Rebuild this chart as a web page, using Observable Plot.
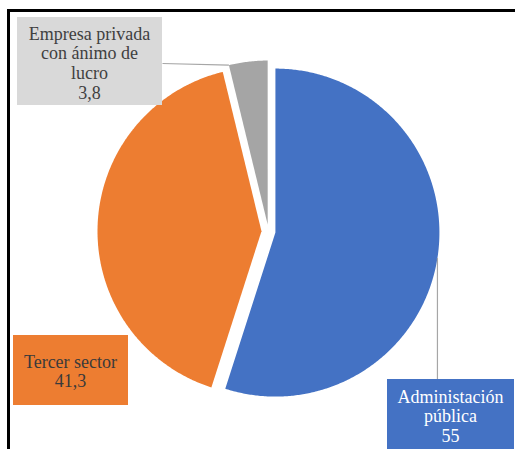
<!DOCTYPE html>
<html><head><meta charset="utf-8">
<script src="https://cdn.jsdelivr.net/npm/d3@7"></script>
<script src="https://cdn.jsdelivr.net/npm/@observablehq/plot@0.6"></script>
<style>
html,body{margin:0;padding:0;background:#fff;}
#wrap{position:relative;width:515px;height:449px;overflow:hidden;}
#frame{position:absolute;left:7px;top:9px;width:700px;height:700px;border-left:3px solid #000;border-top:3px solid #000;pointer-events:none;}
</style></head><body>
<div id="wrap"><div id="chart"></div><div id="frame"></div></div>
<script>
// ---- data ----
const categories = ["Administación pública", "Tercer sector", "Empresa privada con ánimo de lucro"];
const values = [55, 41.3, 3.8];
const valueLabels = ["55", "41,3", "3,8"];
const labelLines = ["Administación\npública", "Tercer sector", "Empresa privada\ncon ánimo de\nlucro"];
const colors = ["#4472C4", "#ED7D31", "#A5A5A5"];

// ---- layout (pixels) ----
const W = 515, H = 449;
const pie = {cx: 268, cy: 231, r: 164, explode: 7};
const boxLayout = [
  {x1: 387, x2: 514, y1: 379, y2: 470, tx: 450, ty: 388, fill: "#4472C4", textColor: "#ffffff", leader: "vertical"},
  {x1: 13, x2: 128, y1: 335, y2: 405, tx: 70, ty: 353, fill: "#ED7D31", textColor: "#3a3a3a", leader: null},
  {x1: 17, x2: 162, y1: 17, y2: 105, tx: 89, ty: 25, fill: "#D9D9D9", textColor: "#404040", leader: "side", leaderY: 63}
];
const FONT = "'Liberation Serif', 'DejaVu Serif', serif";

// ---- geometry from values ----
const total = d3.sum(values);
let acc = 0;
const slices = values.map((v, i) => {
  const a0 = acc / total * 2 * Math.PI;
  acc += v;
  const a1 = acc / total * 2 * Math.PI;
  const mid = (a0 + a1) / 2;
  const cx = pie.cx + pie.explode * Math.sin(mid);
  const cy = pie.cy - pie.explode * Math.cos(mid);
  return {i, a0, a1, mid, cx, cy};
});
const pt = (s, a) => ({x: s.cx + pie.r * Math.sin(a), y: s.cy - pie.r * Math.cos(a)});

const slicePts = [];
for (const s of slices) {
  slicePts.push({cat: categories[s.i], color: colors[s.i], x: s.cx, y: s.cy});
  const n = Math.max(2, Math.ceil((s.a1 - s.a0) / (Math.PI / 360)));
  for (let k = 0; k <= n; k++) {
    const p = pt(s, s.a0 + (s.a1 - s.a0) * k / n);
    slicePts.push({cat: categories[s.i], color: colors[s.i], x: p.x, y: p.y});
  }
}

const boxes = boxLayout.map((b, i) => ({...b, text: labelLines[i] + "\n" + valueLabels[i]}));

const leaders = [];
boxLayout.forEach((b, i) => {
  const s = slices[i];
  if (b.leader === "vertical") {
    const p = pt(s, s.mid);
    leaders.push({x1: p.x, y1: p.y, x2: p.x, y2: b.y1});
  } else if (b.leader === "side") {
    const p = pt(s, s.a0);
    leaders.push({x1: b.x2, y1: b.leaderY, x2: p.x, y2: p.y});
  }
});

const chart = Plot.plot({
  width: W, height: H, margin: 0,
  style: {background: "#fff"},
  x: {domain: [0, W], range: [0, W], axis: null},
  y: {domain: [0, H], range: [0, H], axis: null},
  color: {type: "identity"},
  marks: [
    Plot.line(slicePts, {x: "x", y: "y", z: "cat", fill: "color", stroke: "none", curve: "linear-closed"}),
    Plot.link(leaders, {x1: "x1", y1: "y1", x2: "x2", y2: "y2", stroke: "#a6a6a6", strokeWidth: 1.2}),
    Plot.rect(boxes, {x1: "x1", x2: "x2", y1: "y1", y2: "y2", fill: "fill"}),
    Plot.text(boxes, {x: "tx", y: "ty", text: "text", fill: "textColor", fontSize: 18,
      lineAnchor: "top", lineHeight: 1.1, textAnchor: "middle"})
  ]
});
d3.select(chart).selectAll("text, tspan").style("font-family", FONT);
d3.select(chart).selectAll("g").filter(function() { return this.getAttribute("font-family"); }).attr("font-family", null).style("font-family", FONT);
document.getElementById("chart").appendChild(chart);
</script>
</body></html>
